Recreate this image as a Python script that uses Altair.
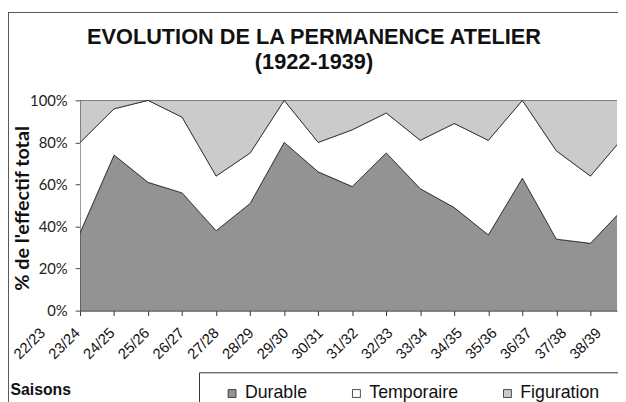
import altair as alt
import pandas as pd

seasons = ["22/23", "23/24", "24/25", "25/26", "26/27", "27/28", "28/29", "29/30",
           "30/31", "31/32", "32/33", "33/34", "34/35", "35/36", "36/37", "37/38", "38/39"]
durable = [37, 74, 61, 56, 38, 51, 80, 66, 59, 75, 58, 49, 36, 63, 34, 32, 49]
temporaire = [43, 22, 39, 36, 26, 24, 20, 14, 27, 19, 23, 40, 45, 37, 42, 32, 34]
figuration = [20, 4, 0, 8, 36, 25, 0, 20, 14, 6, 19, 11, 19, 0, 24, 36, 17]
categories = ["Durable", "Temporaire", "Figuration"]
colors = ["#939393", "#ffffff", "#cbcbcb"]
title_lines = ["EVOLUTION DE LA PERMANENCE ATELIER", "(1922-1939)"]

rows = []
for i, s in enumerate(seasons):
    for k, (cat, vals) in enumerate(zip(categories, [durable, temporaire, figuration])):
        rows.append({"idx": i, "saison": s, "type": cat, "ord": k, "pct": vals[i] / 100})
df = pd.DataFrame(rows)
lab = pd.DataFrame({"idx": list(range(len(seasons))), "saison": seasons})

W, H = 544, 213
step = 34.47
xmax = W / step
lab_step = 35.2
lab_d0 = 38 / lab_step
lab_d1 = lab_d0 + W / lab_step

SANS = "Liberation Sans, Arial, sans-serif"

area = alt.Chart(df).mark_area(stroke="#222", strokeWidth=0.8, clip=True, interpolate="linear").encode(
    x=alt.X("idx:Q",
            scale=alt.Scale(domain=[0, xmax], nice=False, zero=False),
            axis=alt.Axis(values=list(range(len(seasons))), labels=False,
                          tickSize=5, grid=False, domainColor="#333", tickColor="#333",
                          title="Saisons", titleX=-71, titleY=85, titleAlign="left",
                          titleAnchor="start", titleFont=SANS, titleFontSize=16,
                          titleFontWeight="bold", titleBaseline="alphabetic", titleColor="#111")),
    y=alt.Y("pct:Q", stack="zero",
            scale=alt.Scale(domain=[0, 1], nice=False),
            axis=alt.Axis(values=[0, 0.2, 0.4, 0.6, 0.8, 1.0], format=".0%", tickSize=5,
                          labelPadding=8, grid=False, domainColor="#888", tickColor="#444",
                          labelFont="Lato", labelFontSize=15, labelColor="#222",
                          title="% de l'effectif total", titleX=-58, titleY=109,
                          titleAngle=-90, titleAlign="center", titleBaseline="middle",
                          titleFont="Lato", titleFontSize=20, titleFontWeight="bold",
                          titleColor="#111")),
    color=alt.Color("type:N", scale=alt.Scale(domain=categories, range=colors),
                    legend=alt.Legend(orient="none", legendX=145, legendY=288,
                                      direction="horizontal", title=None, symbolType="square",
                                      symbolSize=64, symbolStrokeColor="#222",
                                      symbolStrokeWidth=0.8, symbolOpacity=1,
                                      labelFont=SANS, labelFontSize=18, labelColor="#111",
                                      columnPadding=40, labelOffset=4)),
    order=alt.Order("ord:Q", sort="ascending"),
)

labels = alt.Chart(lab).mark_text(angle=315, align="right", baseline="middle", font=SANS,
                                  fontSize=15, color="#111").encode(
    x=alt.X("idx:Q", scale=alt.Scale(domain=[lab_d0, lab_d1], nice=False, zero=False), axis=None),
    y=alt.value(233),
    text="saison:N",
)

one = pd.DataFrame({"a": [0]})
frame_top = alt.Chart(one).mark_rule(color="#555", strokeWidth=1).encode(
    x=alt.value(-76), x2=alt.value(W + 10), y=alt.value(-89))
frame_left = alt.Chart(one).mark_rule(color="#555", strokeWidth=1).encode(
    x=alt.value(-72.5), y=alt.value(-89), y2=alt.value(H + 100))
legend_box = alt.Chart(one).mark_rect(fillOpacity=0, stroke="#333", strokeWidth=1).encode(
    x=alt.value(121), x2=alt.value(W + 20), y=alt.value(276), y2=alt.value(H + 120))

tdf = pd.DataFrame({"line": title_lines})
title1 = alt.Chart(tdf.iloc[[0]]).mark_text(font=SANS, fontSize=22, fontWeight="bold",
                                            color="#111", align="center", baseline="alphabetic").encode(
    x=alt.value(237), y=alt.value(-57), text="line:N")
title2 = alt.Chart(tdf.iloc[[1]]).mark_text(font=SANS, fontSize=22, fontWeight="bold",
                                            color="#111", align="center", baseline="alphabetic").encode(
    x=alt.value(237), y=alt.value(-32), text="line:N")

chart = alt.layer(frame_top, frame_left, legend_box, title1, title2, area, labels).resolve_scale(
    x="independent"
).properties(
    width=W, height=H,
    padding={"left": 73, "top": 91, "right": 1, "bottom": 90},
    autosize="none",
    background="white",
).configure_view(strokeWidth=0)

chart.save("out.html", embed_options={"renderer": "svg", "actions": False})
